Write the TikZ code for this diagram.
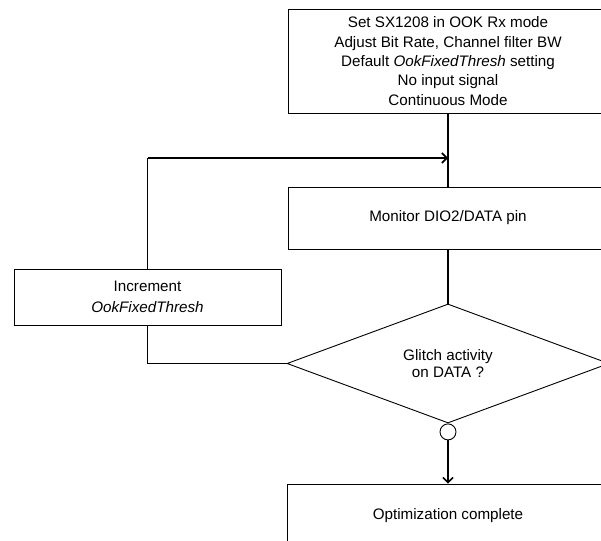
\documentclass[tikz,border=0pt]{standalone}
\usepackage{fontspec}
\setmainfont{Liberation Sans}
\usetikzlibrary{shapes.geometric,arrows.meta}
\begin{document}
\begin{tikzpicture}[x=1pt,y=-1pt,
  box/.style={draw, line width=0.9pt, rectangle, inner sep=0pt, align=center, font=\fontsize{15.2}{19.3}\selectfont},
  dec/.style={draw, line width=0.9pt, diamond, inner sep=0pt, align=center, minimum width=322pt, minimum height=119pt, font=\fontsize{15.2}{17.8}\selectfont},
  thickline/.style={line width=1.9pt},
  thinline/.style={line width=0.9pt},
  tip/.style={-{Straight Barb[length=5pt,width=10pt,line width=1.6pt]}}
]
\useasboundingbox (0,0) rectangle (601,540);
\clip (0,0) rectangle (601,540);
\node[box, minimum width=320pt, minimum height=104pt] (top) at (448,61)
  {Set SX1208 in OOK Rx mode\\Adjust Bit Rate, Channel filter BW\\Default \textit{OokFixedThresh} setting\\No input signal\\Continuous Mode};
\node[box, minimum width=320pt, minimum height=62pt] (mon) at (448,218) {Monitor DIO2/DATA pin};
\node[box, minimum width=267pt, minimum height=56pt, font=\fontsize{15.2}{21}\selectfont] (inc) at (147.5,297) {Increment\\\textit{OokFixedThresh}};
\node[dec] (dia) at (448,363.5) {Glitch activity\\on DATA ?};
\node[draw, thinline, circle, minimum size=16pt, inner sep=0pt, anchor=north] (circ) at (dia.south) {};
\node[box, minimum width=322pt, minimum height=64pt] (bot) at (448,516) {Optimization complete};
\coordinate (c1) at (147.5,158);
\draw[thickline] (top.south) -- (mon.north);
\draw[thickline, tip] (c1) -- (c1 -| top.south);
\draw[thinline] (inc.north) -- (c1);
\draw[thinline] (inc.south) |- (dia.west);
\draw[thickline] (mon.south) -- (dia.north);
\draw[thickline, tip] (circ.south) -- (bot.north);
\end{tikzpicture}
\end{document}
